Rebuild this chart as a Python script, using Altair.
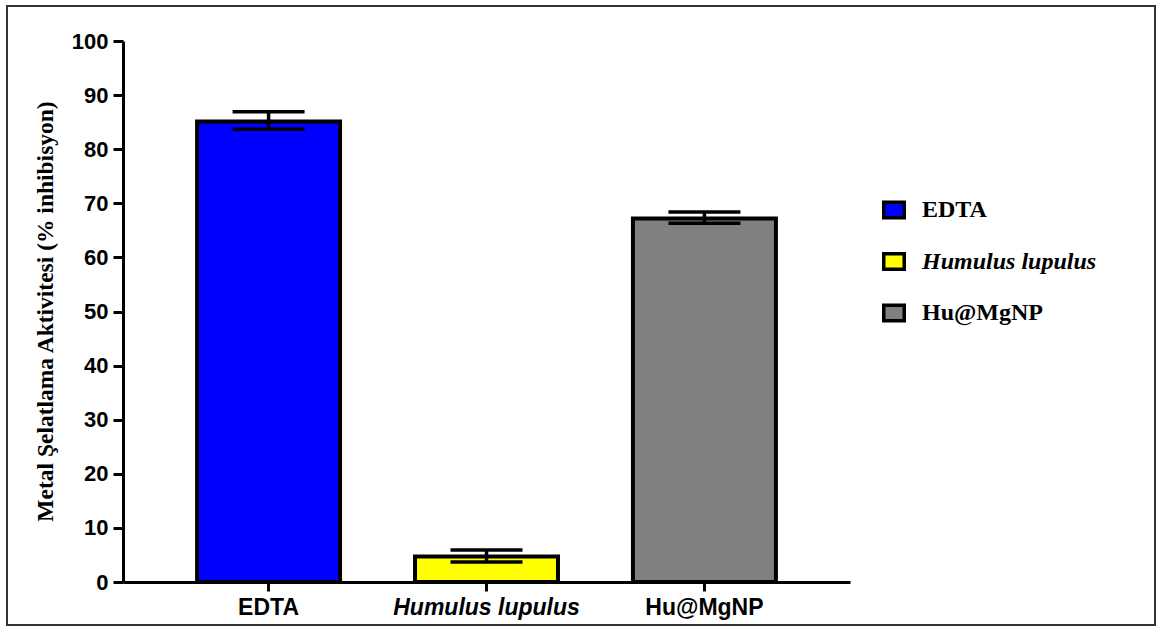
import altair as alt
import pandas as pd

categories = ["EDTA", "Humulus lupulus", "Hu@MgNP"]
means = [85.1, 4.7, 67.2]
err_hi = [86.9, 5.9, 68.4]
err_lo = [83.7, 3.7, 66.3]
colors = ["#0000FF", "#FFFF00", "#808080"]
y_ticks = list(range(0, 101, 5))

df = pd.DataFrame({"cat": categories, "mean": means, "hi": err_hi, "lo": err_lo})

W, H = 727, 541
PAD_L, PAD_T = 123, 41

x_enc = alt.X(
    "cat:N",
    sort=categories,
    scale=alt.Scale(paddingInner=0.344, paddingOuter=0.34),
    axis=alt.Axis(
        title=None,
        labelAngle=0,
        labelFont="Liberation Sans",
        labelFontWeight="bold",
        labelFontSize=23,
        labelColor="black",
        labelPadding=5,
        labelLimit=400,
        labelFontStyle={"condition": {"test": "datum.label === 'Humulus lupulus'", "value": "italic"}, "value": "normal"},
        domainColor="black",
        domainWidth=3,
        tickColor="black",
        tickWidth=3,
        tickSize=9,
    ),
)

y_scale = alt.Scale(domain=[0, 100], nice=False)

bars = alt.Chart(df).mark_bar(stroke="black", strokeWidth=4).encode(
    x=x_enc,
    y=alt.Y(
        "mean:Q",
        scale=y_scale,
        axis=alt.Axis(
            title="Metal Şelatlama Aktivitesi (% inhibisyon)",
            titleFont="Liberation Serif",
            titleFontWeight="bold",
            titleFontSize=23.5,
            titleColor="black",
            titleX=-78,
            titleY=270,
            titleAngle=270,
            titleBaseline="middle",
            titleAlign="center",
            values=y_ticks,
            labelExpr="datum.value % 10 === 0 ? datum.label : ''",
            labelFont="Liberation Sans",
            labelFontWeight="bold",
            labelFontSize=22,
            labelColor="black",
            labelPadding=5,
            domainColor="black",
            domainWidth=3,
            tickColor="black",
            tickWidth=3,
            tickSize={"condition": {"test": "datum.value % 10 === 0", "value": 10}, "value": 6},
            grid=False,
        ),
    ),
    color=alt.Color(
        "cat:N",
        sort=categories,
        scale=alt.Scale(domain=categories, range=colors),
        legend=alt.Legend(
            title=None,
            orient="none",
            legendX=759,
            legendY=157,
            padding=0,
            symbolType="M-1,-0.75H1V0.75H-1Z",
            symbolSize=420,
            symbolStrokeColor="black",
            symbolStrokeWidth=3.5,
            symbolOpacity=1,
            rowPadding=21.5,
            labelOffset=16,
            labelFont="Liberation Serif",
            labelFontWeight="bold",
            labelFontSize=24,
            labelColor="black",
            labelLimit=300,
            labelFontStyle=alt.ExprRef("datum.label === 'Humulus lupulus' ? 'italic' : 'normal'"),
        ),
    ),
)

rule = alt.Chart(df).mark_rule(color="black", strokeWidth=3.5).encode(
    x=alt.X("cat:N", sort=categories),
    y=alt.Y("lo:Q", scale=y_scale),
    y2="hi:Q",
)

cap_hi = alt.Chart(df).mark_tick(color="black", opacity=1, thickness=3.5, size=72, orient="horizontal").encode(
    x=alt.X("cat:N", sort=categories),
    y=alt.Y("hi:Q", scale=y_scale),
)
cap_lo = alt.Chart(df).mark_tick(color="black", opacity=1, thickness=3.5, size=72, orient="horizontal").encode(
    x=alt.X("cat:N", sort=categories),
    y=alt.Y("lo:Q", scale=y_scale),
)

frame = alt.Chart(df).mark_rect(fill=None, stroke="#333333", strokeWidth=2).encode(
    x=alt.value(7 - PAD_L),
    x2=alt.value(1155 - PAD_L),
    y=alt.value(6 - PAD_T),
    y2=alt.value(625 - PAD_T),
)

chart = alt.layer(frame, bars, rule, cap_hi, cap_lo).properties(
    width=W,
    height=H,
    autosize=alt.AutoSizeParams(type="none"),
    padding={"left": PAD_L, "top": PAD_T, "right": 1157 - PAD_L - W, "bottom": 628 - PAD_T - H},
    background="white",
).configure_view(stroke=None)

chart.save("out.html", embed_options={"renderer": "svg", "actions": False})
